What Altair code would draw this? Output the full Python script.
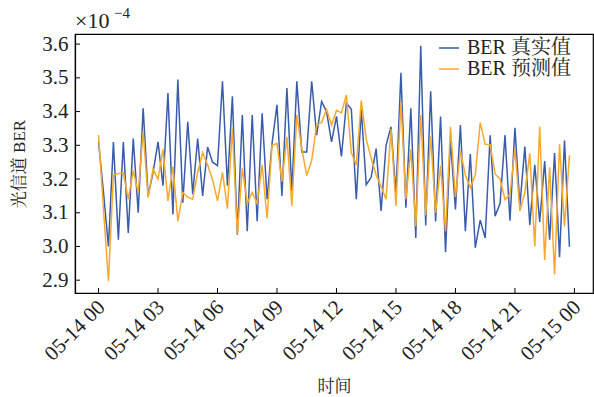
import altair as alt
import pandas as pd

# BER values in units of 1e-4, 15-minute steps from 05-14 00:00
true_vals = [3.31, 3.16, 3.00, 3.31, 3.02, 3.31, 3.04, 3.32, 3.10, 3.41,
             3.15, 3.22, 3.31, 3.18, 3.455, 3.095, 3.495, 3.13, 3.37, 3.155,
             3.32, 3.15, 3.295, 3.25, 3.24, 3.49, 3.18, 3.445, 3.035, 3.39,
             3.045, 3.39, 3.075, 3.395, 3.14, 3.305, 3.42, 3.15, 3.47, 3.165,
             3.49, 3.28, 3.28, 3.49, 3.33, 3.43, 3.40, 3.31, 3.386, 3.267,
             3.425, 3.407, 3.14, 3.406, 3.183, 3.205, 3.29, 3.105, 3.30, 3.355,
             3.155, 3.515, 3.115, 3.41, 3.025, 3.595, 3.062, 3.46, 3.074, 3.385,
             2.983, 3.315, 3.11, 3.36, 3.045, 3.274, 2.996, 3.078, 3.025, 3.33,
             3.09, 3.127, 3.33, 3.076, 3.352, 3.12, 3.296, 3.064, 3.242, 3.073,
             3.253, 3.02, 3.277, 2.968, 3.314, 2.999]
pred_vals = [3.33, 3.11, 2.897, 3.212, 3.216, 3.218, 3.14, 3.225, 3.16, 3.341,
             3.145, 3.23, 3.20, 3.288, 3.135, 3.236, 3.075, 3.16, 3.146, 3.14,
             3.22, 3.278, 3.242, 3.198, 3.135, 3.22, 3.112, 3.35, 3.038, 3.232,
             3.128, 3.16, 3.127, 3.242, 3.083, 3.30, 3.305, 3.192, 3.325, 3.12,
             3.39, 3.29, 3.21, 3.255, 3.36, 3.368, 3.406, 3.36, 3.404, 3.396,
             3.449, 3.278, 3.242, 3.433, 3.318, 3.262, 3.212, 3.178, 3.14, 3.348,
             3.12, 3.428, 3.14, 3.288, 3.06, 3.39, 3.093, 3.327, 3.10, 3.24,
             3.045, 3.355, 3.147, 3.283, 3.212, 3.175, 3.212, 3.367, 3.303, 3.302,
             3.215, 3.2, 3.139, 3.155, 3.289, 3.105, 3.16, 3.276, 3.0, 3.355,
             2.96, 3.235, 2.917, 3.303, 3.06, 3.27]
series_names = ["BER 真实值", "BER 预测值"]
series_colors = ["#3a5cad", "#f9a92a"]
y_ticks = [2.9, 3.0, 3.1, 3.2, 3.3, 3.4, 3.5, 3.6]
x_tick_hours = [0, 3, 6, 9, 12, 15, 18, 21, 24]
multiplier_text = ["×10"]
exponent_text = ["−4"]

times = pd.date_range("2023-05-14 00:00", periods=len(true_vals), freq="15min")
df = pd.DataFrame({
    "time": list(times) * 2,
    "value": true_vals + pred_vals,
    "series": [series_names[0]] * len(true_vals) + [series_names[1]] * len(pred_vals),
})
xtick_times = [pd.Timestamp("2023-05-14 00:00") + pd.Timedelta(hours=h) for h in x_tick_hours]
xtick_df = pd.DataFrame({"time": xtick_times})
ytick_df = pd.DataFrame({"value": y_ticks})

W, H = 518, 259
SERIF = "Liberation Serif, Times New Roman, Noto Serif CJK SC, Noto Sans CJK SC"

x_enc = alt.X(
    "time:T",
    title="时间",
    scale=alt.Scale(domain=[alt.DateTime(year=2023, month=5, date=13, hours=22, minutes=48, seconds=45),
                            alt.DateTime(year=2023, month=5, date=15, hours=0, minutes=56, seconds=15)]),
    axis=alt.Axis(values=[alt.DateTime(year=2023, month=5, date=14 + h // 24, hours=h % 24) for h in x_tick_hours],
                  format="%m-%d %H", labelAngle=-45, labelAlign="right", labelBaseline="top",
                  labelOverlap=False, labelPadding=3, labelOffset=-5, titlePadding=14, tickSize=0),
)
y_enc = alt.Y(
    "value:Q",
    title="光信道 BER",
    scale=alt.Scale(domain=[2.862, 3.630], nice=False, zero=False),
    axis=alt.Axis(values=y_ticks, format=".1f", labelPadding=7, titlePadding=13, tickSize=0),
)

lines = alt.Chart(df).mark_line(strokeWidth=1.5).encode(
    x=x_enc,
    y=y_enc,
    color=alt.Color(
        "series:N",
        scale=alt.Scale(domain=series_names, range=series_colors),
        legend=alt.Legend(title=None, orient="none", legendX=363, legendY=3,
                          symbolType="stroke", symbolSize=400, symbolStrokeWidth=1.5,
                          labelFontSize=20, labelFont=SERIF, rowPadding=0, padding=0,
                          labelOffset=7, labelColor="#222"),
    ),
)

xticks = alt.Chart(xtick_df).mark_rule(color="black", strokeWidth=1).encode(
    x=x_enc, y=alt.value(H), y2=alt.value(H - 5)
)
yticks = alt.Chart(ytick_df).mark_rule(color="black", strokeWidth=1).encode(
    y=y_enc, x=alt.value(0), x2=alt.value(5)
)
multiplier = alt.Chart(pd.DataFrame({"t": multiplier_text})).mark_text(
    font=SERIF, fontSize=22, align="left", baseline="alphabetic", color="#222"
).encode(text="t:N", x=alt.value(0), y=alt.value(-6))
exponent = alt.Chart(pd.DataFrame({"t": exponent_text})).mark_text(
    font=SERIF, fontSize=15, align="left", baseline="alphabetic", color="#222"
).encode(text="t:N", x=alt.value(39), y=alt.value(-16))

chart = alt.layer(lines, xticks, yticks, multiplier, exponent).properties(
    width=W, height=H,
    autosize=alt.AutoSizeParams(type="none"),
    padding={"left": 75, "top": 34, "right": 1, "bottom": 104},
).configure_view(
    stroke="black", strokeWidth=1.2
).configure_axis(
    grid=False, domainColor="black", domainWidth=1.2,
    labelFont=SERIF, labelFontSize=21, labelColor="#222",
    titleFont=SERIF, titleFontSize=17, titleFontWeight="normal", titleColor="#222",
)

chart.save("out.html", embed_options={"renderer": "svg", "actions": False})
